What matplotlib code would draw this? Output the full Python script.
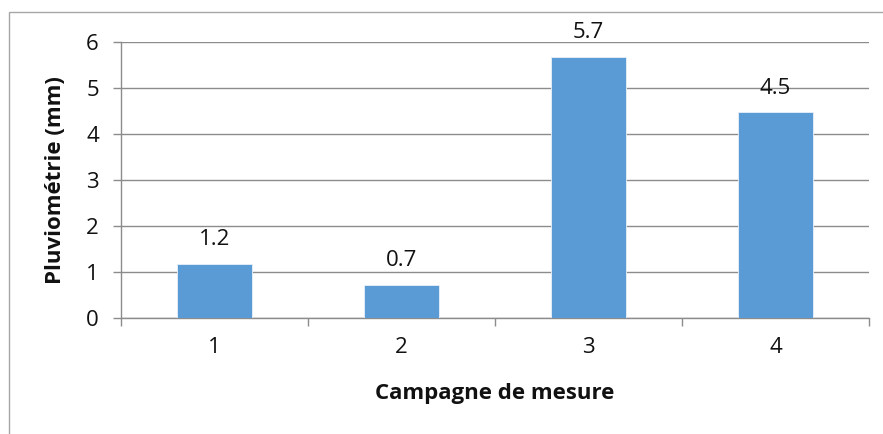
import matplotlib

matplotlib.use("Agg")

import matplotlib.pyplot as plt
from matplotlib.patches import Rectangle

# Data
campaigns = ["1", "2", "3", "4"]
rainfall_mm = [1.17, 0.72, 5.67, 4.47]
rainfall_labels = ["1.2", "0.7", "5.7", "4.5"]
y_ticks = [0, 1, 2, 3, 4, 5, 6]

W, H = 883, 434
DPI = 100
FS = 16

plt.rcParams["font.family"] = ["Open Sans", "DejaVu Sans"]

fig = plt.figure(figsize=(W / DPI, H / DPI), dpi=DPI)
fig.patch.set_facecolor("white")

# outer chart border (cropped at right and bottom in the reference)
fig.patches.append(
    Rectangle((9 / W, -0.1), 1.2, 1.1 - 12 / H,
              transform=fig.transFigure, fill=False,
              edgecolor="#a6a6a6", linewidth=1.0)
)

left, right = 121 / W, 869 / W
bottom, top = (H - 318) / H, (H - 42) / H
ax = fig.add_axes([left, bottom, right - left, top - bottom])

x = list(range(1, len(campaigns) + 1))
ax.bar(x, rainfall_mm, width=0.4, color="#5b9bd5", edgecolor="#e9f1fa",
       linewidth=0.6, zorder=3)

for xi, val, lab in zip(x, rainfall_mm, rainfall_labels):
    ax.annotate(lab, (xi, val), xytext=(0, 17.5), textcoords="offset points",
                ha="center", va="center", fontsize=FS, color="#111111")

ax.set_xlim(0.5, 4.5)
ax.set_ylim(0, 6)
ax.set_yticks(y_ticks)
ax.set_xticks(x)
ax.set_xticklabels(campaigns)
ax.set_xticks([0.5, 1.5, 2.5, 3.5, 4.5], minor=True)

ax.yaxis.grid(True, color="#8c8c8c", linewidth=1.0, zorder=0)
ax.set_axisbelow(True)

for side in ["top", "right"]:
    ax.spines[side].set_visible(False)
for side in ["left", "bottom"]:
    ax.spines[side].set_color("#8c8c8c")
    ax.spines[side].set_linewidth(1.0)

ax.tick_params(axis="y", length=6, width=1.0, color="#8c8c8c", pad=10,
               labelsize=FS, labelcolor="#111111")
ax.tick_params(axis="x", which="major", length=0, pad=14,
               labelsize=FS, labelcolor="#111111")
ax.tick_params(axis="x", which="minor", length=6, width=1.0, color="#8c8c8c")

fig.text(56 / W, 1 - 180 / H, "Pluviométrie (mm)", rotation=90,
         ha="center", va="center", fontsize=FS, fontweight="bold",
         color="#111111")
fig.text(495 / W, 1 - 393 / H, "Campagne de mesure", ha="center",
         va="center", fontsize=FS, fontweight="bold", color="#111111")

fig.savefig("out.png", dpi=DPI)
